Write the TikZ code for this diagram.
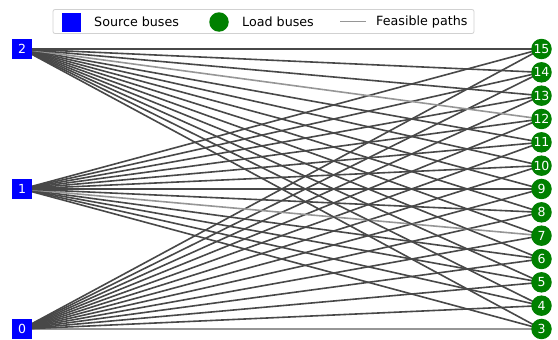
\documentclass[tikz,border=0pt]{standalone}
\usepackage{fontspec}
\setmainfont{DejaVu Sans}
\usetikzlibrary{backgrounds}
\definecolor{srcblue}{RGB}{0,0,255}
\definecolor{loadgreen}{RGB}{0,128,0}
\definecolor{darkpath}{RGB}{72,72,72}
\definecolor{lightpath}{RGB}{150,150,150}
\begin{document}
\begin{tikzpicture}[x=1pt,y=-1pt,
  src/.style={rectangle, fill=srcblue, minimum size=20pt, inner sep=0pt,
    text=white, font=\fontsize{12.5}{13}\selectfont},
  load/.style={circle, fill=loadgreen, minimum size=20.5pt, inner sep=0pt,
    text=white, font=\fontsize{12.5}{13}\selectfont},
  feas/.style={line width=1.6pt, draw=darkpath},
  feaslight/.style={line width=1.6pt, draw=lightpath},
  legtext/.style={anchor=west, inner sep=0pt, font=\fontsize{12.7}{13}\selectfont}]
\useasboundingbox (0,0) rectangle (558,340);

% source buses
\node[src] (s2) at (22,49) {2};
\node[src] (s1) at (22,189) {1};
\node[src] (s0) at (22,329) {0};

% load buses 3..15, top to bottom 15..3
\foreach \k in {3,...,15} {
  \node[load] (l\k) at (541.5,{49+(15-\k)*23.333}) {\k};
}

% feasible paths from every source to every load
\begin{scope}[on background layer]
  \foreach \s in {0,1,2} {
    \foreach \k in {3,...,15} {
      \pgfmathtruncatemacro{\lt}{(\s==2 && \k==12) || (\s==1 && \k==7) || (\s==0 && \k==3)}
      \ifnum\lt=1
        \draw[feaslight] (s\s.center) -- (l\k.center);
      \else
        \draw[feas] (s\s.center) -- (l\k.center);
      \fi
    }
  }
\end{scope}

% legend
\node[draw=black!18, fill=white, rounded corners=2pt, line width=0.8pt,
  minimum width=421pt, minimum height=24pt, inner sep=0pt] (leg) at (263.5,21.5) {};
\node[rectangle, fill=srcblue, minimum size=19pt, inner sep=0pt] (legsrc) at (71,22) {};
\node[legtext] (legsrctxt) at (94,21.5) {Source buses};
\node[circle, fill=loadgreen, minimum size=19.5pt, inner sep=0pt] (legload) at (219,22) {};
\node[legtext] (legloadtxt) at (242,21.5) {Load buses};
\coordinate (legl1) at (340,21.5);
\coordinate (legl2) at (366,21.5);
\draw[feaslight] (legl1) -- (legl2);
\node[legtext] (legpathtxt) at (376,21.5) {Feasible paths};
\end{tikzpicture}
\end{document}
